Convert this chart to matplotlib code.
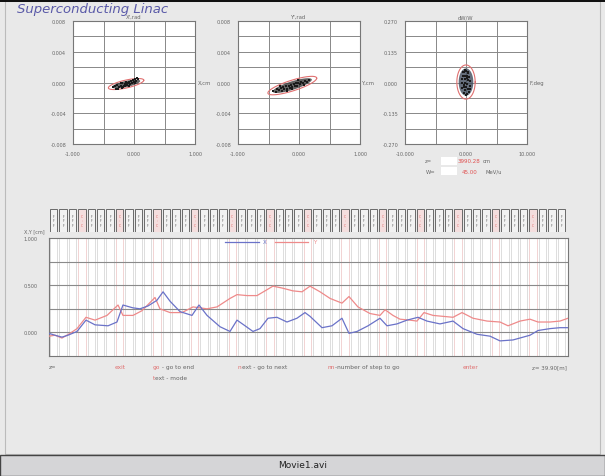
import numpy as np
import matplotlib.pyplot as plt
from matplotlib.patches import Rectangle

W, H = 605, 477

# particle clouds in the three phase planes
x_pts = [-0.34, -0.30, -0.28, -0.25, -0.22, -0.20, -0.19, -0.17, -0.15, -0.14,
         -0.12, -0.11, -0.10, -0.08, -0.07, -0.05, -0.04, -0.02, 0.00, 0.02,
         0.04, 0.07, -0.26, -0.18, -0.09, -0.13, 0.01, -0.22, -0.31, 0.05]
xp_pts = [-0.0006, -0.0008, -0.0003, -0.0006, -0.0004, -0.0007, -0.0001, -0.0004, -0.0002, -0.0005,
          0.0000, -0.0003, -0.0001, 0.0001, -0.0002, 0.0002, 0.0000, 0.0003, 0.0001, 0.0004,
          0.0002, 0.0005, -0.0009, -0.0006, -0.0004, 0.0001, -0.0001, -0.0001, -0.0004, 0.0006]

y_pts = [-0.42, -0.38, -0.36, -0.33, -0.30, -0.28, -0.26, -0.24, -0.21, -0.19,
         -0.17, -0.15, -0.13, -0.11, -0.09, -0.07, -0.05, -0.03, -0.01, 0.02,
         0.04, 0.07, 0.10, 0.13, 0.16, -0.31, -0.20, -0.02, 0.09, -0.12]
yp_pts = [-0.0011, -0.0012, -0.0008, -0.0010, -0.0007, -0.0011, -0.0006, -0.0009, -0.0005, -0.0008,
          -0.0004, -0.0007, -0.0003, -0.0006, -0.0002, -0.0005, -0.0001, -0.0004, 0.0000, -0.0002,
          0.0001, -0.0001, 0.0002, 0.0001, 0.0003, -0.0004, -0.0011, 0.0003, -0.0003, -0.0009]

phi_pts = [0.0, -0.3, 0.3, -0.5, 0.1, 0.5, -0.6, -0.2, 0.4, 0.7,
           -0.7, -0.1, 0.2, -0.4, 0.6, 0.0, -0.6, 0.3, -0.2, 0.5,
           -0.4, 0.1, -0.1, 0.2, -0.3, 0.0, 0.4, -0.5, 0.6, -0.1]
dw_pts = [0.050, 0.045, 0.040, 0.030, 0.030, 0.025, 0.015, 0.015, 0.010, 0.005,
          0.000, 0.000, -0.005, -0.010, -0.015, -0.020, -0.025, -0.030, -0.035, -0.040,
          -0.045, -0.050, 0.055, 0.020, -0.020, -0.055, 0.045, 0.045, -0.030, 0.030]

# emittance ellipses: centre x, centre y, half width, half thickness, correlation slope
ell_x = (-0.13, -0.0002, 0.29, 0.00052, 0.0017)
ell_y = (-0.11, -0.0004, 0.40, 0.00072, 0.0024)
ell_z = (0.0, 0.002, 1.5, 0.075, 0.0)

# beam envelope along the linac
zx = [0.0, 0.46, 1.0, 1.46, 2.16, 2.85, 3.55, 4.55, 5.24, 5.70, 6.47, 7.01, 7.63, 8.32,
      8.79, 9.33, 10.10, 11.02, 11.56, 12.18, 13.18, 13.95, 14.49, 15.11, 15.72, 16.26,
      16.88, 17.57, 18.34, 19.11, 19.73, 20.12, 21.04, 21.81, 22.58, 23.12, 23.74, 24.59,
      25.51, 26.05, 26.82, 27.59, 28.44, 29.13, 30.13, 31.14, 31.91, 32.99, 33.99, 34.76,
      35.76, 37.07, 37.69, 38.61, 39.38, 40.0]
env_x = [-0.01, -0.03, -0.05, -0.03, 0.01, 0.13, 0.08, 0.07, 0.11, 0.29, 0.26, 0.25, 0.28, 0.34,
         0.43, 0.33, 0.22, 0.18, 0.29, 0.18, 0.06, 0.01, 0.13, 0.07, 0.01, 0.04,
         0.15, 0.16, 0.11, 0.15, 0.21, 0.17, 0.05, 0.07, 0.15, -0.01, 0.01, 0.07,
         0.15, 0.07, 0.09, 0.13, 0.16, 0.12, 0.09, 0.12, 0.04, -0.02, -0.04, -0.09,
         -0.08, -0.03, 0.02, 0.04, 0.05, 0.05]
zy = [0.0, 0.46, 1.0, 1.62, 2.16, 2.85, 3.55, 4.47, 5.32, 5.70, 6.47, 7.17, 8.17, 8.55,
      9.33, 10.25, 11.10, 12.18, 12.95, 13.95, 14.49, 15.26, 16.03, 16.65, 17.26, 17.96,
      18.80, 19.50, 20.12, 20.89, 21.66, 22.58, 23.12, 23.81, 24.74, 25.51, 25.90, 26.51,
      27.05, 27.82, 28.36, 28.90, 29.60, 30.37, 31.14, 31.83, 32.68, 33.76, 34.76, 35.38,
      36.30, 37.07, 37.69, 38.61, 39.38, 40.0]
env_y = [-0.04, -0.03, -0.06, -0.01, 0.04, 0.16, 0.13, 0.18, 0.29, 0.18, 0.18, 0.23, 0.37, 0.25,
         0.21, 0.21, 0.27, 0.25, 0.27, 0.36, 0.40, 0.39, 0.39, 0.44, 0.49, 0.47,
         0.44, 0.43, 0.49, 0.43, 0.36, 0.31, 0.38, 0.27, 0.20, 0.18, 0.24, 0.18,
         0.14, 0.13, 0.12, 0.21, 0.18, 0.17, 0.16, 0.21, 0.15, 0.12, 0.11, 0.07,
         0.12, 0.14, 0.11, 0.11, 0.12, 0.15]

# lattice: three focusing elements then one cavity, repeated
lattice = list("QQQC" * 13 + "QQQ")
z_end = 39.9028
W_out = 45.00

blue = "#6a72c8"
red = "#ee8a8a"
grey_txt = "#666666"


def fx(px):
    return px / W


def fy(py):
    return 1 - py / H


def ax_at(l, t, r, b):
    return fig.add_axes([fx(l), fy(b), fx(r) - fx(l), fy(t) - fy(b)])


def ellipse_xy(cx, cy, a, b, k, scale=1.0):
    # correlated (sheared) ellipse outline in data units
    t = np.linspace(0, 2 * np.pi, 120)
    u = a * scale * np.cos(t)
    v = b * scale * np.sin(t)
    return cx + u, cy + v + k * u


fig = plt.figure(figsize=(W / 100, H / 100), dpi=100)
fig.patch.set_facecolor("#e9e9e9")

# window frame, top rule and status bar
fig.add_artist(Rectangle((fx(5), fy(455)), fx(600) - fx(5), fy(2) - fy(455),
                         transform=fig.transFigure, fill=False, ec="#bbbbbb", lw=0.8))
fig.add_artist(Rectangle((0, fy(3)), 1, 1 - fy(3), transform=fig.transFigure,
                         color="#111111", lw=0))
fig.add_artist(Rectangle((0, 0), 1, fy(456), transform=fig.transFigure,
                         fc="#d5d5d7", ec="#444444", lw=1.0))
fig.text(0.5, fy(466), "Movie1.avi", ha="center", va="center", fontsize=6.5, color="#222222")

fig.text(fx(17), fy(10), "Superconducting Linac", fontsize=9.5, style="italic",
         color="#5a5aa8", va="center")


def phase_plot(l, xs, ys, xlim, ylim, ell, top_lbl, right_lbl, cloud_col):
    ax = ax_at(l, 22, l + 122, 145)
    ax.set_facecolor("white")
    ax.set_xlim(*xlim)
    ax.set_ylim(*ylim)
    for v in np.linspace(xlim[0], xlim[1], 5)[1:-1]:
        ax.axvline(v, color="#888888", lw=0.7)
    for v in np.linspace(ylim[0], ylim[1], 9)[1:-1]:
        ax.axhline(v, color="#888888", lw=0.7)
    ax.set_xticks(np.linspace(xlim[0], xlim[1], 3))
    ax.set_xticklabels(["%.3f" % v for v in np.linspace(xlim[0], xlim[1], 3)])
    ax.set_yticks(np.linspace(ylim[0], ylim[1], 5))
    ax.set_yticklabels(["%.3f" % v for v in np.linspace(ylim[0], ylim[1], 5)])
    ax.tick_params(length=0, labelsize=3.5, labelcolor=grey_txt, pad=5)
    for s in ax.spines.values():
        s.set_color("#777777")
        s.set_linewidth(0.8)
    ex, ey = ellipse_xy(*ell, scale=0.8)
    ax.fill(ex, ey, color=cloud_col, alpha=0.8, lw=0, zorder=3)
    ex, ey = ellipse_xy(*ell)
    ax.plot(ex, ey, color="#e07070", lw=0.8, zorder=4)
    ax.scatter(xs, ys, s=4, marker="s", color="#1a1a1a", lw=0, zorder=5)
    ax.set_title(top_lbl, fontsize=3.8, color=grey_txt, pad=2)
    ax.text(1.02, 0.5, right_lbl, transform=ax.transAxes, fontsize=3.8,
            color=grey_txt, va="center")
    return ax


phase_plot(73, x_pts, xp_pts, (-1, 1), (-0.008, 0.008), ell_x, "X',rad", "X,cm", "#3a3a3a")
phase_plot(238, y_pts, yp_pts, (-1, 1), (-0.008, 0.008), ell_y, "Y',rad", "Y,cm", "#3a3a3a")
phase_plot(405, phi_pts, dw_pts, (-10, 10), (-0.27, 0.27), ell_z, "dW/W", "F,deg", "#3e4a5a")

# current position / energy read-out
fig.text(fx(425), fy(162), "z=", fontsize=3.8, color=grey_txt, va="center")
fig.text(fx(426), fy(172), "W=", fontsize=3.8, color=grey_txt, va="center")
for yy in (162, 172):
    fig.add_artist(Rectangle((fx(441), fy(yy + 4)), fx(457) - fx(441), fy(yy - 4) - fy(yy + 4),
                             transform=fig.transFigure, fc="white", ec="none"))
fig.text(fx(458), fy(162), "%.2f" % (z_end * 100), fontsize=4, color="#e05050", va="center")
fig.text(fx(483), fy(162), "cm", fontsize=3.8, color=grey_txt, va="center")
fig.text(fx(462), fy(172), "%.2f" % W_out, fontsize=4, color="#e05050", va="center")
fig.text(fx(485), fy(172), "MeV/u", fontsize=3.8, color=grey_txt, va="center")

# lattice strip and envelope plot
zmax = 40.0
pitch = 0.7245
box_w = 0.563
z0 = 0.08

axl = ax_at(49, 210, 568, 233)
axl.set_xlim(0, zmax)
axl.set_ylim(0, 1)
axl.axis("off")
for k, kind in enumerate(lattice):
    zs = z0 + k * pitch
    cav = kind == "C"
    axl.add_patch(Rectangle((zs, 0.02), box_w, 0.96, fc="#f4dede" if cav else "#f2f2f2",
                            ec="#555555", lw=0.6))
    axl.text(zs + box_w / 2, 0.5, "C\n:\nC" if cav else "F\nF\nF", ha="center", va="center",
             fontsize=2.2, color="#e06060" if cav else "#555555", linespacing=1.1)

ax = ax_at(49, 239, 568, 357)
ax.set_facecolor("white")
ax.set_xlim(0, zmax)
ax.set_ylim(-0.25, 1.0)
for k, kind in enumerate(lattice):
    zs = z0 + k * pitch
    c = "#f0cccc" if kind == "C" else "#d8d8d8"
    ax.axvline(zs, color=c, lw=0.6, zorder=1)
    ax.axvline(zs + box_w, color=c, lw=0.6, zorder=1)
for v in (0.0, 0.25, 0.5, 0.75):
    ax.axhline(v, color="#8a8a8a", lw=0.8, zorder=2)
ax.plot(zx, env_x, color=blue, lw=0.9, zorder=4, label="X")
ax.plot(zy, env_y, color=red, lw=0.9, zorder=3, label="Y")
ax.set_xticks([])
ax.set_yticks([1.0, 0.5, 0.0])
ax.set_yticklabels(["1.000", "0.500", "0.000"])
ax.tick_params(length=0, labelsize=3.5, labelcolor=grey_txt, pad=8)
for s in ax.spines.values():
    s.set_color("#777777")
    s.set_linewidth(0.8)
ax.legend(loc="upper left", bbox_to_anchor=(0.33, 1.03), ncol=2, frameon=False,
          fontsize=4, handlelength=6, labelcolor=[blue, red], columnspacing=1.5)
fig.text(fx(24), fy(232), "X,Y [cm]", fontsize=3.5, color=grey_txt, va="center")

# key help line under the plot
row = fy(368)
fig.text(fx(49), row, "z=", fontsize=4, color=grey_txt, va="center")
fig.text(fx(115), row, "exit", fontsize=4.2, color="#e07070", va="center")
keys = [(153, "go", " - go to end"), (238, "n", "ext - go to next"),
        (328, "nn", "-number of step to go")]
fig.canvas.draw()
for px, hot, rest in keys:
    t = fig.text(fx(px), row, hot, fontsize=4.2, color="#e07070", va="center")
    bb = t.get_window_extent(renderer=fig.canvas.get_renderer())
    fig.text(bb.x1 / W, row, rest, fontsize=4.2, color=grey_txt, va="center")
fig.text(fx(463), row, "enter", fontsize=4.2, color="#e07070", va="center")
fig.text(fx(567), row, "z= %.2f[m]" % z_end, fontsize=4, color=grey_txt, va="center", ha="right")
t = fig.text(fx(153), fy(379), "t", fontsize=4.2, color="#e07070", va="center")
bb = t.get_window_extent(renderer=fig.canvas.get_renderer())
fig.text(bb.x1 / W, fy(379), "ext - mode", fontsize=4.2, color=grey_txt, va="center")

fig.savefig("out.png", dpi=100, facecolor=fig.get_facecolor())
